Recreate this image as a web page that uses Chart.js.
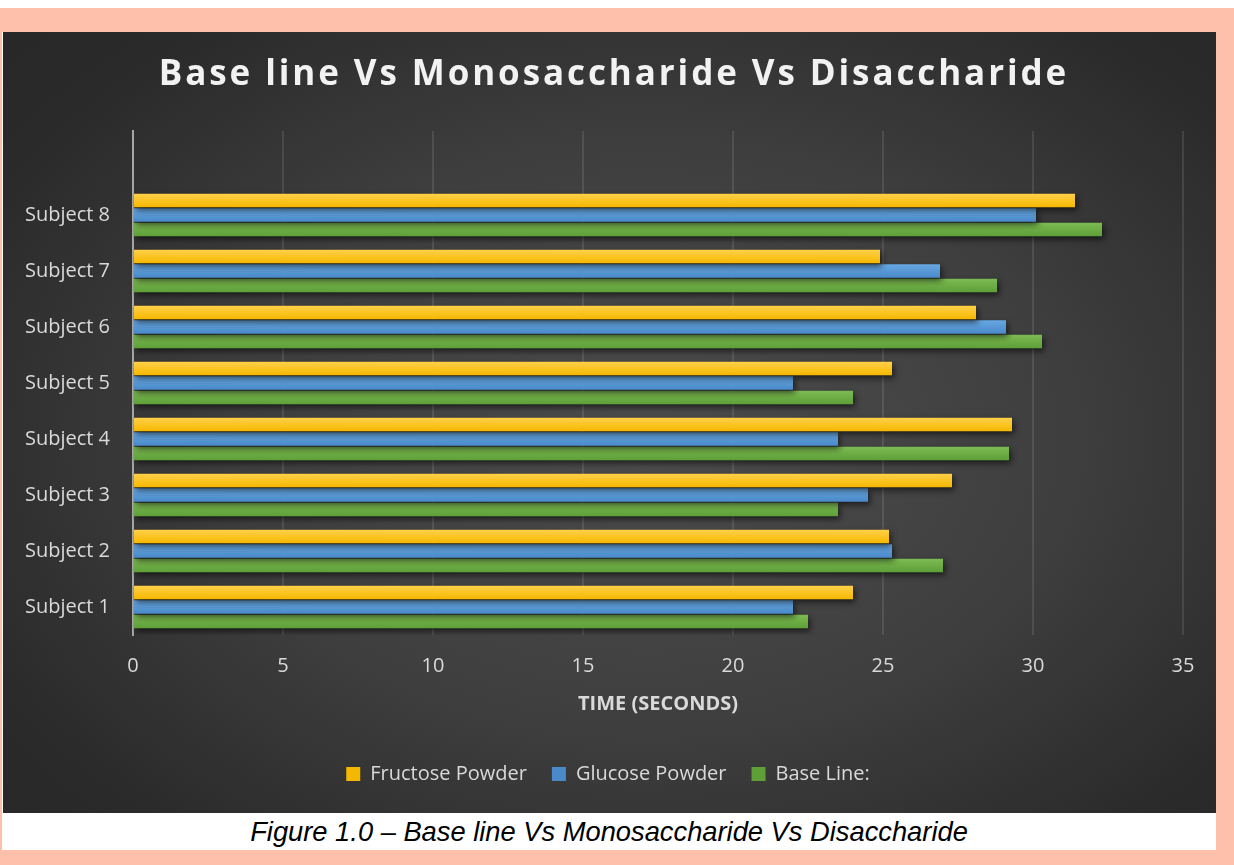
<!DOCTYPE html>
<html>
<head>
<meta charset="utf-8">
<script src="https://cdn.jsdelivr.net/npm/chart.js@4.4.1/dist/chart.umd.min.js"></script>
<style>
  html, body { margin:0; padding:0; background:#ffffff; width:1234px; height:865px; overflow:hidden; }
  #frame { position:absolute; left:0; top:8px; width:1234px; height:857px; background:#FFC0AB; }
  #paper { position:absolute; left:2px; top:32px; width:1214px; height:818px; background:#ffffff; }
  #chartbox { position:absolute; left:3px; top:32px; width:1213px; height:781px;
    background: radial-gradient(ellipse 75% 80% at 53% 52%, #4d4d4d 0%, #3f3f3f 45%, #2b2b2b 80%, #262626 100%); }
  #caption { position:absolute; left:2px; top:813px; width:1214px; height:37px; text-align:center;
    font: italic 27.3px "Liberation Sans", Arial, sans-serif; color:#000; line-height:37px; }
</style>
</head>
<body>
<div id="frame"></div>
<div id="paper"></div>
<div id="chartbox"><canvas id="c" width="1213" height="781"></canvas></div>
<div id="caption">Figure 1.0 – Base line Vs Monosaccharide Vs Disaccharide</div>
<script>
// ---- data ----
const chartTitle = 'Base line Vs Monosaccharide Vs Disaccharide';
const axisTitle = 'TIME (SECONDS)';
const categories = ['Subject 1', 'Subject 2', 'Subject 3', 'Subject 4', 'Subject 5', 'Subject 6', 'Subject 7', 'Subject 8', ''];
const seriesNames = ['Fructose Powder', 'Glucose Powder', 'Base Line:'];
const fructose = [24.0, 25.2, 27.3, 29.3, 25.3, 28.1, 24.9, 31.4, null];
const glucose  = [22.0, 25.3, 24.5, 23.5, 22.0, 29.1, 26.9, 30.1, null];
const baseLine = [22.5, 27.0, 23.5, 29.2, 24.0, 30.3, 28.8, 32.3, null];
const xMin = 0, xMax = 35, xStep = 5;

// ---- styles ----
const palette = [
  { solid:'#FFC000', top:'#FFD04A', bottom:'#F5B800' },
  { solid:'#5B9BD5', top:'#67A8E2', bottom:'#4A89CA' },
  { solid:'#70AD47', top:'#7DBB52', bottom:'#5E9F38' }
];

function barFill(pi) {
  return function(ctx) {
    const p = palette[pi];
    if (ctx.type !== 'data' || ctx.dataIndex === undefined) return p.solid;
    const meta = ctx.chart.getDatasetMeta(ctx.datasetIndex);
    const el = meta && meta.data[ctx.dataIndex];
    if (!el || typeof el.y !== 'number' || !isFinite(el.y) || !isFinite(el.height)) return p.solid;
    const h = Math.abs(el.height);
    const g = ctx.chart.ctx.createLinearGradient(0, el.y - h / 2, 0, el.y + h / 2);
    g.addColorStop(0, p.top);
    g.addColorStop(1, p.bottom);
    return g;
  };
}

const shadowPlugin = {
  id: 'barShadow',
  beforeDatasetsDraw(chart) {
    const c = chart.ctx;
    c.save();
    c.shadowColor = 'rgba(0,0,0,0.6)';
    c.shadowBlur = 6;
    c.shadowOffsetX = 2;
    c.shadowOffsetY = 3;
  },
  afterDatasetsDraw(chart) { chart.ctx.restore(); }
};

const font20 = { family: '"Open Sans", sans-serif', size: 20 };

const chart = new Chart(document.getElementById('c'), {
  type: 'bar',
  data: {
    labels: categories,
    datasets: [
      { label: seriesNames[0], data: fructose, backgroundColor: barFill(0), borderWidth: 0 },
      { label: seriesNames[1], data: glucose,  backgroundColor: barFill(1), borderWidth: 0 },
      { label: seriesNames[2], data: baseLine, backgroundColor: barFill(2), borderWidth: 0 }
    ]
  },
  options: {
    indexAxis: 'y',
    responsive: false,
    animation: false,
    layout: { padding: { left: 10, right: 33, top: 0, bottom: 19 } },
    datasets: { bar: { categoryPercentage: 0.78, barPercentage: 0.93 } },
    plugins: {
      title: {
        display: true, text: chartTitle, color: '#F2F2F2',
        font: { family: '"Open Sans", sans-serif', size: 35, weight: 'bold' },
        padding: { top: 22, bottom: 35 }
      },
      legend: {
        position: 'bottom',
        labels: { color: '#D9D9D9', font: font20, boxWidth: 14, boxHeight: 14, padding: 25 }
      },
      tooltip: { enabled: false }
    },
    scales: {
      x: {
        min: xMin, max: xMax,
        ticks: { stepSize: xStep, color: '#D9D9D9', font: font20, padding: 19 },
        grid: { color: 'rgba(255,255,255,0.10)', lineWidth: 2, drawTicks: false },
        border: { display: false },
        title: { display: true, text: axisTitle, color: '#D9D9D9',
          font: { family: '"Open Sans", sans-serif', size: 20, weight: 'bold' },
          padding: { top: 0, bottom: 23 } },
        afterFit(s) { s.height = 104; }
      },
      y: {
        reverse: true,
        grid: { display: false, drawTicks: false },
        border: { color: '#A6A6A6', width: 2 },
        ticks: { color: '#D9D9D9', font: font20, padding: 23 },
        afterFit(s) { s.width = 120; }
      }
    }
  },
  plugins: [shadowPlugin]
});

// shift / letter-space the title and legend boxes to match the reference placement
function wrapDraw(box, dx, spacing) {
  if (!box) return;
  const orig = box.draw;
  box.draw = function(...args) {
    const c = this.ctx;
    c.save();
    c.translate(dx, 0);
    if (spacing) c.letterSpacing = spacing;
    orig.apply(this, args);
    c.restore();
  };
}
wrapDraw(chart.titleBlock, 16, '2.9px');
wrapDraw(chart.legend, 10, null);
chart.update();
</script>
</body>
</html>
